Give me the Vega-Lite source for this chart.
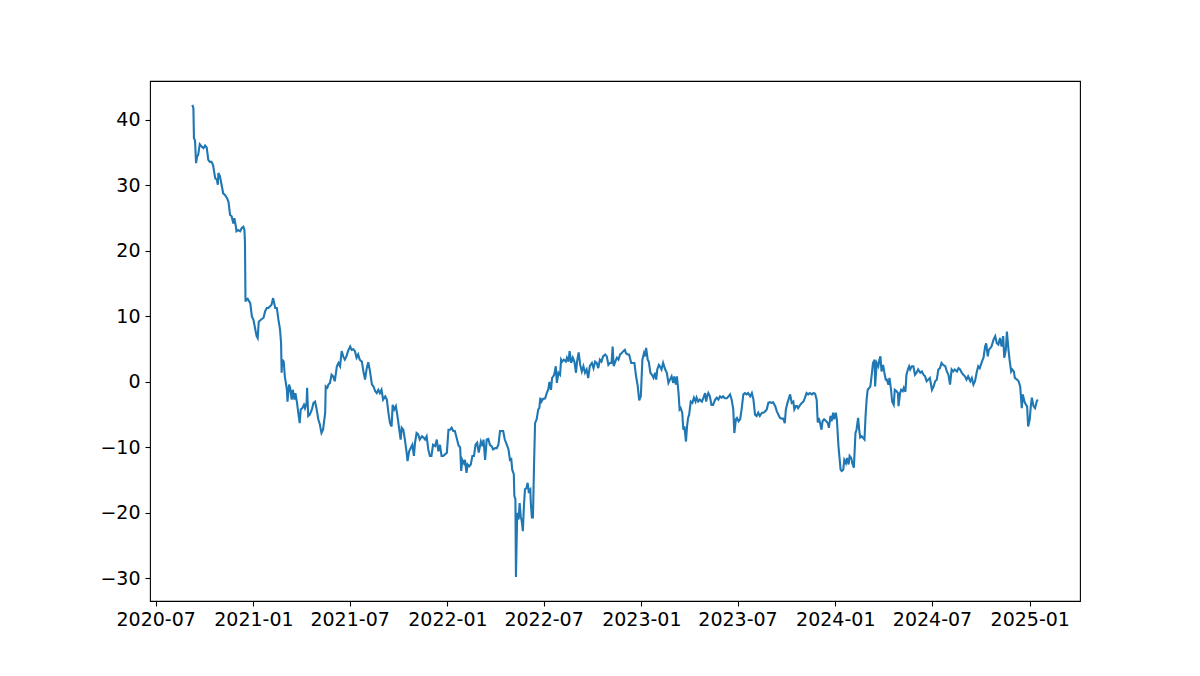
{
  "$schema": "https://vega.github.io/schema/vega-lite/v6.json",
  "width": 930,
  "height": 520,
  "autosize": {"type": "none"},
  "padding": {"left": 150, "top": 81, "right": 120, "bottom": 75},
  "background": "white",
  "config": {"view": {"stroke": "black", "strokeWidth": 1.1}, "font": "DejaVu Sans"},
  "data": {"values": [
    {"date": "2020-09-08", "value": 42.3},
    {"date": "2020-09-10", "value": 41.8},
    {"date": "2020-09-11", "value": 37.2},
    {"date": "2020-09-13", "value": 36.9},
    {"date": "2020-09-15", "value": 33.4},
    {"date": "2020-09-17", "value": 34.4},
    {"date": "2020-09-19", "value": 34.7},
    {"date": "2020-09-22", "value": 36.3},
    {"date": "2020-09-26", "value": 35.9},
    {"date": "2020-09-29", "value": 35.7},
    {"date": "2020-10-02", "value": 36.1},
    {"date": "2020-10-05", "value": 35.8},
    {"date": "2020-10-08", "value": 33.9},
    {"date": "2020-10-11", "value": 33.6},
    {"date": "2020-10-14", "value": 33.6},
    {"date": "2020-10-17", "value": 33.1},
    {"date": "2020-10-21", "value": 31.1},
    {"date": "2020-10-24", "value": 30.9},
    {"date": "2020-10-26", "value": 30.1},
    {"date": "2020-10-27", "value": 31.9},
    {"date": "2020-10-30", "value": 31.4},
    {"date": "2020-11-02", "value": 30.1},
    {"date": "2020-11-05", "value": 28.8},
    {"date": "2020-11-08", "value": 28.6},
    {"date": "2020-11-12", "value": 28.1},
    {"date": "2020-11-15", "value": 27.5},
    {"date": "2020-11-18", "value": 25.5},
    {"date": "2020-11-21", "value": 25.3},
    {"date": "2020-11-24", "value": 24.2},
    {"date": "2020-11-26", "value": 25.0},
    {"date": "2020-11-29", "value": 23.7},
    {"date": "2020-11-30", "value": 23.0},
    {"date": "2020-12-03", "value": 23.2},
    {"date": "2020-12-07", "value": 23.0},
    {"date": "2020-12-10", "value": 23.5},
    {"date": "2020-12-13", "value": 23.7},
    {"date": "2020-12-15", "value": 23.2},
    {"date": "2020-12-16", "value": 21.4},
    {"date": "2020-12-17", "value": 12.3},
    {"date": "2020-12-19", "value": 12.6},
    {"date": "2020-12-21", "value": 12.7},
    {"date": "2020-12-24", "value": 12.3},
    {"date": "2020-12-26", "value": 12.0},
    {"date": "2020-12-29", "value": 10.0},
    {"date": "2021-01-01", "value": 9.5},
    {"date": "2021-01-04", "value": 8.2},
    {"date": "2021-01-07", "value": 7.0},
    {"date": "2021-01-09", "value": 6.7},
    {"date": "2021-01-11", "value": 9.2},
    {"date": "2021-01-15", "value": 9.5},
    {"date": "2021-01-20", "value": 9.8},
    {"date": "2021-01-23", "value": 10.8},
    {"date": "2021-01-26", "value": 11.3},
    {"date": "2021-01-29", "value": 11.3},
    {"date": "2021-02-01", "value": 11.5},
    {"date": "2021-02-04", "value": 11.8},
    {"date": "2021-02-07", "value": 12.8},
    {"date": "2021-02-11", "value": 11.3},
    {"date": "2021-02-14", "value": 11.3},
    {"date": "2021-02-17", "value": 9.5},
    {"date": "2021-02-20", "value": 8.0},
    {"date": "2021-02-22", "value": 5.9},
    {"date": "2021-02-23", "value": 1.4},
    {"date": "2021-02-24", "value": 3.4},
    {"date": "2021-02-27", "value": 3.1},
    {"date": "2021-03-01", "value": 0.85},
    {"date": "2021-03-05", "value": -1.2},
    {"date": "2021-03-06", "value": -3.0},
    {"date": "2021-03-09", "value": -0.4},
    {"date": "2021-03-11", "value": -0.9},
    {"date": "2021-03-14", "value": -2.7},
    {"date": "2021-03-16", "value": -1.2},
    {"date": "2021-03-19", "value": -2.7},
    {"date": "2021-03-21", "value": -1.7},
    {"date": "2021-03-24", "value": -3.2},
    {"date": "2021-03-26", "value": -4.5},
    {"date": "2021-03-29", "value": -6.3},
    {"date": "2021-03-31", "value": -4.2},
    {"date": "2021-04-03", "value": -4.0},
    {"date": "2021-04-06", "value": -3.5},
    {"date": "2021-04-08", "value": -4.0},
    {"date": "2021-04-11", "value": -3.2},
    {"date": "2021-04-12", "value": -0.9},
    {"date": "2021-04-14", "value": -5.2},
    {"date": "2021-04-17", "value": -5.0},
    {"date": "2021-04-21", "value": -4.2},
    {"date": "2021-04-24", "value": -3.2},
    {"date": "2021-04-27", "value": -3.0},
    {"date": "2021-04-30", "value": -4.2},
    {"date": "2021-05-03", "value": -5.7},
    {"date": "2021-05-06", "value": -6.5},
    {"date": "2021-05-09", "value": -7.8},
    {"date": "2021-05-12", "value": -7.3},
    {"date": "2021-05-16", "value": -4.7},
    {"date": "2021-05-17", "value": -0.7},
    {"date": "2021-05-20", "value": -0.9},
    {"date": "2021-05-22", "value": -0.4},
    {"date": "2021-05-25", "value": -0.15},
    {"date": "2021-05-28", "value": 1.1},
    {"date": "2021-05-31", "value": 0.85},
    {"date": "2021-06-03", "value": 0.1},
    {"date": "2021-06-07", "value": 2.4},
    {"date": "2021-06-10", "value": 2.9},
    {"date": "2021-06-13", "value": 2.4},
    {"date": "2021-06-16", "value": 4.7},
    {"date": "2021-06-19", "value": 3.9},
    {"date": "2021-06-22", "value": 3.4},
    {"date": "2021-06-25", "value": 3.9},
    {"date": "2021-06-28", "value": 4.7},
    {"date": "2021-07-02", "value": 5.4},
    {"date": "2021-07-05", "value": 4.9},
    {"date": "2021-07-08", "value": 5.0},
    {"date": "2021-07-11", "value": 4.7},
    {"date": "2021-07-14", "value": 3.7},
    {"date": "2021-07-17", "value": 4.2},
    {"date": "2021-07-20", "value": 3.4},
    {"date": "2021-07-24", "value": 3.1},
    {"date": "2021-07-27", "value": 1.6},
    {"date": "2021-07-30", "value": 0.35},
    {"date": "2021-08-02", "value": 2.0},
    {"date": "2021-08-05", "value": 3.0},
    {"date": "2021-08-08", "value": 1.8},
    {"date": "2021-08-12", "value": -0.4},
    {"date": "2021-08-15", "value": -0.7},
    {"date": "2021-08-18", "value": -1.4},
    {"date": "2021-08-21", "value": -1.7},
    {"date": "2021-08-24", "value": -1.2},
    {"date": "2021-08-27", "value": -1.7},
    {"date": "2021-08-30", "value": -1.2},
    {"date": "2021-09-02", "value": -2.7},
    {"date": "2021-09-06", "value": -2.2},
    {"date": "2021-09-09", "value": -2.7},
    {"date": "2021-09-12", "value": -4.7},
    {"date": "2021-09-15", "value": -6.3},
    {"date": "2021-09-18", "value": -6.8},
    {"date": "2021-09-20", "value": -3.5},
    {"date": "2021-09-23", "value": -4.2},
    {"date": "2021-09-26", "value": -3.7},
    {"date": "2021-09-29", "value": -5.2},
    {"date": "2021-10-02", "value": -7.0},
    {"date": "2021-10-05", "value": -8.8},
    {"date": "2021-10-07", "value": -7.0},
    {"date": "2021-10-10", "value": -7.3},
    {"date": "2021-10-13", "value": -8.8},
    {"date": "2021-10-16", "value": -10.6},
    {"date": "2021-10-18", "value": -12.1},
    {"date": "2021-10-21", "value": -10.6},
    {"date": "2021-10-24", "value": -10.1},
    {"date": "2021-10-27", "value": -9.6},
    {"date": "2021-10-30", "value": -11.3},
    {"date": "2021-11-01", "value": -9.3},
    {"date": "2021-11-04", "value": -7.8},
    {"date": "2021-11-07", "value": -8.0},
    {"date": "2021-11-10", "value": -8.8},
    {"date": "2021-11-14", "value": -8.3},
    {"date": "2021-11-17", "value": -8.5},
    {"date": "2021-11-20", "value": -8.8},
    {"date": "2021-11-23", "value": -8.3},
    {"date": "2021-11-26", "value": -10.3},
    {"date": "2021-11-29", "value": -11.3},
    {"date": "2021-12-02", "value": -11.3},
    {"date": "2021-12-05", "value": -9.6},
    {"date": "2021-12-09", "value": -9.8},
    {"date": "2021-12-12", "value": -8.8},
    {"date": "2021-12-15", "value": -10.6},
    {"date": "2021-12-18", "value": -9.6},
    {"date": "2021-12-21", "value": -11.3},
    {"date": "2021-12-24", "value": -11.3},
    {"date": "2021-12-27", "value": -11.1},
    {"date": "2021-12-31", "value": -10.8},
    {"date": "2022-01-03", "value": -7.3},
    {"date": "2022-01-06", "value": -7.3},
    {"date": "2022-01-09", "value": -7.0},
    {"date": "2022-01-12", "value": -7.5},
    {"date": "2022-01-15", "value": -7.5},
    {"date": "2022-01-18", "value": -8.4},
    {"date": "2022-01-22", "value": -9.7},
    {"date": "2022-01-25", "value": -10.0},
    {"date": "2022-01-27", "value": -13.6},
    {"date": "2022-01-29", "value": -11.9},
    {"date": "2022-02-01", "value": -12.4},
    {"date": "2022-02-03", "value": -11.9},
    {"date": "2022-02-06", "value": -13.9},
    {"date": "2022-02-08", "value": -12.6},
    {"date": "2022-02-11", "value": -12.9},
    {"date": "2022-02-14", "value": -12.6},
    {"date": "2022-02-17", "value": -11.3},
    {"date": "2022-02-20", "value": -11.3},
    {"date": "2022-02-23", "value": -9.6},
    {"date": "2022-02-26", "value": -9.3},
    {"date": "2022-03-01", "value": -10.8},
    {"date": "2022-03-05", "value": -9.1},
    {"date": "2022-03-08", "value": -9.8},
    {"date": "2022-03-10", "value": -8.8},
    {"date": "2022-03-13", "value": -11.9},
    {"date": "2022-03-16", "value": -8.8},
    {"date": "2022-03-19", "value": -8.7},
    {"date": "2022-03-22", "value": -9.6},
    {"date": "2022-03-25", "value": -9.8},
    {"date": "2022-03-28", "value": -10.3},
    {"date": "2022-04-01", "value": -10.1},
    {"date": "2022-04-04", "value": -10.1},
    {"date": "2022-04-07", "value": -9.6},
    {"date": "2022-04-10", "value": -7.5},
    {"date": "2022-04-13", "value": -7.5},
    {"date": "2022-04-16", "value": -7.5},
    {"date": "2022-04-19", "value": -8.8},
    {"date": "2022-04-23", "value": -9.6},
    {"date": "2022-04-26", "value": -10.3},
    {"date": "2022-04-29", "value": -12.1},
    {"date": "2022-05-01", "value": -11.6},
    {"date": "2022-05-03", "value": -13.4},
    {"date": "2022-05-06", "value": -14.1},
    {"date": "2022-05-07", "value": -17.4},
    {"date": "2022-05-09", "value": -17.9},
    {"date": "2022-05-10", "value": -29.8},
    {"date": "2022-05-12", "value": -21.5},
    {"date": "2022-05-13", "value": -20.0},
    {"date": "2022-05-15", "value": -21.0},
    {"date": "2022-05-17", "value": -18.5},
    {"date": "2022-05-19", "value": -20.5},
    {"date": "2022-05-21", "value": -21.3},
    {"date": "2022-05-23", "value": -22.8},
    {"date": "2022-05-25", "value": -19.0},
    {"date": "2022-05-27", "value": -16.4},
    {"date": "2022-05-30", "value": -16.2},
    {"date": "2022-06-01", "value": -15.4},
    {"date": "2022-06-03", "value": -16.7},
    {"date": "2022-06-06", "value": -16.4},
    {"date": "2022-06-07", "value": -18.5},
    {"date": "2022-06-09", "value": -20.7},
    {"date": "2022-06-11", "value": -20.7},
    {"date": "2022-06-13", "value": -12.9},
    {"date": "2022-06-15", "value": -6.3},
    {"date": "2022-06-18", "value": -5.7},
    {"date": "2022-06-21", "value": -4.2},
    {"date": "2022-06-23", "value": -4.0},
    {"date": "2022-06-25", "value": -2.4},
    {"date": "2022-06-27", "value": -3.0},
    {"date": "2022-06-30", "value": -2.6},
    {"date": "2022-07-04", "value": -2.5},
    {"date": "2022-07-07", "value": -1.7},
    {"date": "2022-07-10", "value": -1.1},
    {"date": "2022-07-12", "value": 0.0},
    {"date": "2022-07-15", "value": -1.2},
    {"date": "2022-07-17", "value": 0.6},
    {"date": "2022-07-21", "value": 1.1},
    {"date": "2022-07-24", "value": 2.4},
    {"date": "2022-07-26", "value": -0.15},
    {"date": "2022-07-29", "value": 1.4},
    {"date": "2022-08-01", "value": 1.1},
    {"date": "2022-08-03", "value": 3.4},
    {"date": "2022-08-05", "value": 3.1},
    {"date": "2022-08-08", "value": 3.4},
    {"date": "2022-08-12", "value": 3.1},
    {"date": "2022-08-14", "value": 3.7},
    {"date": "2022-08-17", "value": 3.1},
    {"date": "2022-08-19", "value": 4.7},
    {"date": "2022-08-22", "value": 2.9},
    {"date": "2022-08-25", "value": 3.7},
    {"date": "2022-08-28", "value": 3.1},
    {"date": "2022-08-31", "value": 1.4},
    {"date": "2022-09-02", "value": 3.1},
    {"date": "2022-09-05", "value": 4.5},
    {"date": "2022-09-08", "value": 2.6},
    {"date": "2022-09-11", "value": 1.6},
    {"date": "2022-09-14", "value": 2.4},
    {"date": "2022-09-17", "value": 1.4},
    {"date": "2022-09-20", "value": 1.9},
    {"date": "2022-09-23", "value": 0.6},
    {"date": "2022-09-26", "value": 2.4},
    {"date": "2022-09-30", "value": 2.9},
    {"date": "2022-10-03", "value": 2.1},
    {"date": "2022-10-06", "value": 3.1},
    {"date": "2022-10-09", "value": 2.9},
    {"date": "2022-10-12", "value": 2.1},
    {"date": "2022-10-15", "value": 3.4},
    {"date": "2022-10-18", "value": 3.1},
    {"date": "2022-10-21", "value": 3.9},
    {"date": "2022-10-25", "value": 4.2},
    {"date": "2022-10-28", "value": 3.9},
    {"date": "2022-10-31", "value": 2.6},
    {"date": "2022-11-03", "value": 2.9},
    {"date": "2022-11-06", "value": 2.9},
    {"date": "2022-11-08", "value": 5.4},
    {"date": "2022-11-10", "value": 2.4},
    {"date": "2022-11-13", "value": 3.1},
    {"date": "2022-11-16", "value": 3.7},
    {"date": "2022-11-19", "value": 3.4},
    {"date": "2022-11-22", "value": 4.2},
    {"date": "2022-11-25", "value": 4.4},
    {"date": "2022-11-28", "value": 4.7},
    {"date": "2022-12-01", "value": 4.9},
    {"date": "2022-12-03", "value": 4.4},
    {"date": "2022-12-06", "value": 4.2},
    {"date": "2022-12-09", "value": 4.2},
    {"date": "2022-12-13", "value": 2.9},
    {"date": "2022-12-16", "value": 2.9},
    {"date": "2022-12-19", "value": 2.9},
    {"date": "2022-12-22", "value": 0.9},
    {"date": "2022-12-25", "value": -0.5},
    {"date": "2022-12-28", "value": -2.8},
    {"date": "2022-12-31", "value": -2.2},
    {"date": "2023-01-03", "value": 3.4},
    {"date": "2023-01-06", "value": 4.4},
    {"date": "2023-01-08", "value": 3.9},
    {"date": "2023-01-10", "value": 5.2},
    {"date": "2023-01-13", "value": 3.4},
    {"date": "2023-01-15", "value": 3.1},
    {"date": "2023-01-18", "value": 1.4},
    {"date": "2023-01-21", "value": 1.1},
    {"date": "2023-01-24", "value": 0.6},
    {"date": "2023-01-27", "value": 1.4},
    {"date": "2023-01-29", "value": 0.35},
    {"date": "2023-01-31", "value": 1.9},
    {"date": "2023-02-03", "value": 2.6},
    {"date": "2023-02-05", "value": 2.4},
    {"date": "2023-02-08", "value": 1.9},
    {"date": "2023-02-11", "value": 2.9},
    {"date": "2023-02-15", "value": 1.9},
    {"date": "2023-02-18", "value": 1.4},
    {"date": "2023-02-21", "value": -0.15},
    {"date": "2023-02-24", "value": 0.35},
    {"date": "2023-02-27", "value": 0.85},
    {"date": "2023-03-02", "value": -0.15},
    {"date": "2023-03-04", "value": 0.85},
    {"date": "2023-03-07", "value": -0.4},
    {"date": "2023-03-09", "value": 0.85},
    {"date": "2023-03-12", "value": -1.7},
    {"date": "2023-03-14", "value": -4.2},
    {"date": "2023-03-16", "value": -4.0},
    {"date": "2023-03-19", "value": -4.7},
    {"date": "2023-03-21", "value": -7.3},
    {"date": "2023-03-23", "value": -6.8},
    {"date": "2023-03-26", "value": -9.1},
    {"date": "2023-03-28", "value": -6.8},
    {"date": "2023-03-30", "value": -5.5},
    {"date": "2023-04-01", "value": -5.0},
    {"date": "2023-04-04", "value": -3.0},
    {"date": "2023-04-07", "value": -3.2},
    {"date": "2023-04-10", "value": -2.4},
    {"date": "2023-04-13", "value": -3.0},
    {"date": "2023-04-15", "value": -2.4},
    {"date": "2023-04-18", "value": -3.0},
    {"date": "2023-04-21", "value": -2.7},
    {"date": "2023-04-25", "value": -3.0},
    {"date": "2023-04-28", "value": -2.4},
    {"date": "2023-05-01", "value": -1.7},
    {"date": "2023-05-03", "value": -3.0},
    {"date": "2023-05-05", "value": -2.2},
    {"date": "2023-05-07", "value": -1.7},
    {"date": "2023-05-10", "value": -2.2},
    {"date": "2023-05-13", "value": -3.5},
    {"date": "2023-05-16", "value": -3.5},
    {"date": "2023-05-20", "value": -2.7},
    {"date": "2023-05-23", "value": -2.4},
    {"date": "2023-05-26", "value": -2.7},
    {"date": "2023-05-29", "value": -2.2},
    {"date": "2023-06-01", "value": -2.4},
    {"date": "2023-06-04", "value": -2.2},
    {"date": "2023-06-07", "value": -2.5},
    {"date": "2023-06-11", "value": -2.5},
    {"date": "2023-06-14", "value": -2.2},
    {"date": "2023-06-17", "value": -1.9},
    {"date": "2023-06-20", "value": -2.7},
    {"date": "2023-06-23", "value": -4.2},
    {"date": "2023-06-25", "value": -7.8},
    {"date": "2023-06-28", "value": -5.7},
    {"date": "2023-06-30", "value": -5.5},
    {"date": "2023-07-03", "value": -6.0},
    {"date": "2023-07-06", "value": -5.7},
    {"date": "2023-07-09", "value": -4.0},
    {"date": "2023-07-12", "value": -1.9},
    {"date": "2023-07-15", "value": -1.7},
    {"date": "2023-07-18", "value": -1.9},
    {"date": "2023-07-21", "value": -1.7},
    {"date": "2023-07-25", "value": -2.2},
    {"date": "2023-07-28", "value": -1.7},
    {"date": "2023-07-31", "value": -2.7},
    {"date": "2023-08-03", "value": -5.0},
    {"date": "2023-08-06", "value": -5.2},
    {"date": "2023-08-09", "value": -4.7},
    {"date": "2023-08-12", "value": -5.2},
    {"date": "2023-08-16", "value": -4.7},
    {"date": "2023-08-19", "value": -4.7},
    {"date": "2023-08-22", "value": -4.5},
    {"date": "2023-08-25", "value": -4.2},
    {"date": "2023-08-28", "value": -3.2},
    {"date": "2023-08-31", "value": -3.1},
    {"date": "2023-09-03", "value": -3.2},
    {"date": "2023-09-06", "value": -3.1},
    {"date": "2023-09-10", "value": -3.7},
    {"date": "2023-09-13", "value": -4.5},
    {"date": "2023-09-16", "value": -5.0},
    {"date": "2023-09-19", "value": -5.5},
    {"date": "2023-09-22", "value": -5.6},
    {"date": "2023-09-25", "value": -5.6},
    {"date": "2023-09-28", "value": -6.3},
    {"date": "2023-09-30", "value": -4.2},
    {"date": "2023-10-03", "value": -3.2},
    {"date": "2023-10-05", "value": -2.7},
    {"date": "2023-10-08", "value": -1.9},
    {"date": "2023-10-11", "value": -3.2},
    {"date": "2023-10-14", "value": -3.0},
    {"date": "2023-10-16", "value": -4.2},
    {"date": "2023-10-19", "value": -3.7},
    {"date": "2023-10-21", "value": -3.7},
    {"date": "2023-10-23", "value": -4.0},
    {"date": "2023-10-27", "value": -3.5},
    {"date": "2023-10-30", "value": -3.2},
    {"date": "2023-11-02", "value": -3.0},
    {"date": "2023-11-05", "value": -2.4},
    {"date": "2023-11-08", "value": -1.7},
    {"date": "2023-11-11", "value": -1.9},
    {"date": "2023-11-14", "value": -1.7},
    {"date": "2023-11-18", "value": -1.9},
    {"date": "2023-11-21", "value": -1.7},
    {"date": "2023-11-24", "value": -1.8},
    {"date": "2023-11-27", "value": -2.7},
    {"date": "2023-11-29", "value": -6.2},
    {"date": "2023-12-01", "value": -5.5},
    {"date": "2023-12-04", "value": -6.5},
    {"date": "2023-12-06", "value": -7.3},
    {"date": "2023-12-08", "value": -6.0},
    {"date": "2023-12-11", "value": -5.7},
    {"date": "2023-12-15", "value": -6.0},
    {"date": "2023-12-18", "value": -6.3},
    {"date": "2023-12-20", "value": -7.0},
    {"date": "2023-12-23", "value": -5.2},
    {"date": "2023-12-25", "value": -6.0},
    {"date": "2023-12-28", "value": -4.7},
    {"date": "2023-12-30", "value": -5.7},
    {"date": "2024-01-02", "value": -4.7},
    {"date": "2024-01-04", "value": -5.7},
    {"date": "2024-01-07", "value": -9.8},
    {"date": "2024-01-09", "value": -11.6},
    {"date": "2024-01-11", "value": -13.4},
    {"date": "2024-01-13", "value": -13.6},
    {"date": "2024-01-16", "value": -13.4},
    {"date": "2024-01-18", "value": -11.9},
    {"date": "2024-01-21", "value": -12.4},
    {"date": "2024-01-23", "value": -11.6},
    {"date": "2024-01-26", "value": -12.6},
    {"date": "2024-01-28", "value": -11.3},
    {"date": "2024-01-31", "value": -11.6},
    {"date": "2024-02-02", "value": -12.4},
    {"date": "2024-02-05", "value": -13.1},
    {"date": "2024-02-08", "value": -7.8},
    {"date": "2024-02-10", "value": -7.3},
    {"date": "2024-02-13", "value": -5.5},
    {"date": "2024-02-15", "value": -7.3},
    {"date": "2024-02-17", "value": -8.5},
    {"date": "2024-02-20", "value": -8.3},
    {"date": "2024-02-22", "value": -8.5},
    {"date": "2024-02-25", "value": -8.8},
    {"date": "2024-02-27", "value": -5.2},
    {"date": "2024-02-29", "value": -2.7},
    {"date": "2024-03-02", "value": -1.2},
    {"date": "2024-03-05", "value": -0.9},
    {"date": "2024-03-07", "value": -0.7},
    {"date": "2024-03-10", "value": 1.4},
    {"date": "2024-03-12", "value": 2.9},
    {"date": "2024-03-15", "value": 3.4},
    {"date": "2024-03-16", "value": -0.7},
    {"date": "2024-03-19", "value": 2.9},
    {"date": "2024-03-22", "value": 2.4},
    {"date": "2024-03-24", "value": 3.4},
    {"date": "2024-03-26", "value": 3.9},
    {"date": "2024-03-28", "value": 1.6},
    {"date": "2024-03-31", "value": 2.6},
    {"date": "2024-04-02", "value": 1.6},
    {"date": "2024-04-05", "value": 0.35},
    {"date": "2024-04-07", "value": 0.35},
    {"date": "2024-04-10", "value": -0.4},
    {"date": "2024-04-12", "value": 0.6},
    {"date": "2024-04-15", "value": -1.2},
    {"date": "2024-04-17", "value": -3.0},
    {"date": "2024-04-20", "value": -3.5},
    {"date": "2024-04-22", "value": -1.2},
    {"date": "2024-04-25", "value": -1.4},
    {"date": "2024-04-28", "value": -1.7},
    {"date": "2024-04-29", "value": -3.7},
    {"date": "2024-05-02", "value": -1.7},
    {"date": "2024-05-04", "value": -1.2},
    {"date": "2024-05-07", "value": -1.4},
    {"date": "2024-05-09", "value": -0.9},
    {"date": "2024-05-12", "value": -1.5},
    {"date": "2024-05-14", "value": 1.1},
    {"date": "2024-05-17", "value": 2.0},
    {"date": "2024-05-19", "value": 2.4},
    {"date": "2024-05-21", "value": 1.9},
    {"date": "2024-05-24", "value": 2.4},
    {"date": "2024-05-27", "value": 2.4},
    {"date": "2024-05-30", "value": 1.1},
    {"date": "2024-06-02", "value": 1.4},
    {"date": "2024-06-05", "value": 1.9},
    {"date": "2024-06-09", "value": 1.4},
    {"date": "2024-06-12", "value": 1.6},
    {"date": "2024-06-15", "value": 1.1},
    {"date": "2024-06-18", "value": 0.85},
    {"date": "2024-06-21", "value": 0.1},
    {"date": "2024-06-24", "value": 0.35},
    {"date": "2024-06-27", "value": 0.6},
    {"date": "2024-07-01", "value": -1.2},
    {"date": "2024-07-04", "value": -0.7},
    {"date": "2024-07-07", "value": 0.1},
    {"date": "2024-07-10", "value": 0.35},
    {"date": "2024-07-13", "value": 1.9},
    {"date": "2024-07-16", "value": 2.1},
    {"date": "2024-07-19", "value": 2.9},
    {"date": "2024-07-22", "value": 2.6},
    {"date": "2024-07-26", "value": 2.4},
    {"date": "2024-07-29", "value": 1.6},
    {"date": "2024-08-01", "value": 1.1},
    {"date": "2024-08-04", "value": -0.4},
    {"date": "2024-08-07", "value": 1.9},
    {"date": "2024-08-10", "value": 1.6},
    {"date": "2024-08-13", "value": 1.9},
    {"date": "2024-08-17", "value": 1.6},
    {"date": "2024-08-20", "value": 2.1},
    {"date": "2024-08-23", "value": 1.9},
    {"date": "2024-08-26", "value": 1.4},
    {"date": "2024-08-29", "value": 1.1},
    {"date": "2024-09-01", "value": 0.85},
    {"date": "2024-09-04", "value": 0.35},
    {"date": "2024-09-07", "value": 0.85},
    {"date": "2024-09-11", "value": 0.1},
    {"date": "2024-09-14", "value": 0.6},
    {"date": "2024-09-17", "value": -0.4},
    {"date": "2024-09-20", "value": 0.1},
    {"date": "2024-09-23", "value": 1.4},
    {"date": "2024-09-26", "value": 2.4},
    {"date": "2024-09-29", "value": 2.1},
    {"date": "2024-10-03", "value": 3.1},
    {"date": "2024-10-06", "value": 3.7},
    {"date": "2024-10-09", "value": 5.4},
    {"date": "2024-10-11", "value": 5.9},
    {"date": "2024-10-14", "value": 3.9},
    {"date": "2024-10-16", "value": 4.9},
    {"date": "2024-10-19", "value": 5.2},
    {"date": "2024-10-21", "value": 5.4},
    {"date": "2024-10-25", "value": 6.5},
    {"date": "2024-10-28", "value": 7.0},
    {"date": "2024-10-31", "value": 5.9},
    {"date": "2024-11-03", "value": 5.7},
    {"date": "2024-11-06", "value": 6.7},
    {"date": "2024-11-09", "value": 5.4},
    {"date": "2024-11-12", "value": 7.0},
    {"date": "2024-11-14", "value": 3.7},
    {"date": "2024-11-17", "value": 4.9},
    {"date": "2024-11-19", "value": 7.7},
    {"date": "2024-11-22", "value": 4.9},
    {"date": "2024-11-24", "value": 3.4},
    {"date": "2024-11-27", "value": 1.6},
    {"date": "2024-11-29", "value": 1.9},
    {"date": "2024-12-02", "value": 1.6},
    {"date": "2024-12-04", "value": 0.6},
    {"date": "2024-12-08", "value": 0.35},
    {"date": "2024-12-11", "value": 0.1},
    {"date": "2024-12-14", "value": -0.7},
    {"date": "2024-12-17", "value": -4.0},
    {"date": "2024-12-19", "value": -1.9},
    {"date": "2024-12-22", "value": -3.0},
    {"date": "2024-12-25", "value": -3.5},
    {"date": "2024-12-27", "value": -3.7},
    {"date": "2024-12-29", "value": -6.8},
    {"date": "2025-01-01", "value": -5.7},
    {"date": "2025-01-03", "value": -3.7},
    {"date": "2025-01-05", "value": -2.4},
    {"date": "2025-01-08", "value": -3.7},
    {"date": "2025-01-11", "value": -4.0},
    {"date": "2025-01-14", "value": -3.0},
    {"date": "2025-01-16", "value": -2.7}
  ]},
  "mark": {"type": "line", "color": "#1f77b4", "strokeWidth": 2.1, "clip": true},
  "encoding": {
    "x": {
      "field": "date",
      "type": "temporal",
      "scale": {"type": "utc", "domain": [
        {"year": 2020, "month": 6, "date": 20, "hours": 7, "utc": true},
        {"year": 2025, "month": 4, "date": 5, "hours": 14, "utc": true}
      ]},
      "axis": {
        "title": null,
        "values": [
          {"year": 2020, "month": 7, "date": 1, "utc": true},
          {"year": 2021, "month": 1, "date": 1, "utc": true},
          {"year": 2021, "month": 7, "date": 1, "utc": true},
          {"year": 2022, "month": 1, "date": 1, "utc": true},
          {"year": 2022, "month": 7, "date": 1, "utc": true},
          {"year": 2023, "month": 1, "date": 1, "utc": true},
          {"year": 2023, "month": 7, "date": 1, "utc": true},
          {"year": 2024, "month": 1, "date": 1, "utc": true},
          {"year": 2024, "month": 7, "date": 1, "utc": true},
          {"year": 2025, "month": 1, "date": 1, "utc": true}
        ],
        "format": "%Y-%m",
        "grid": false,
        "domain": false,
        "tickColor": "black",
        "tickSize": 5,
        "tickWidth": 1.1,
        "labelFont": "DejaVu Sans",
        "labelFontSize": 19,
        "labelColor": "black",
        "labelPadding": 4,
        "labelFlush": false,
        "labelOverlap": false
      }
    },
    "y": {
      "field": "value",
      "type": "quantitative",
      "scale": {"domain": [-33.45, 45.95], "nice": false, "zero": false},
      "axis": {
        "title": null,
        "values": [-30, -20, -10, 0, 10, 20, 30, 40],
        "labelExpr": "replace(datum.label, '-', '−')",
        "grid": false,
        "domain": false,
        "tickColor": "black",
        "tickSize": 5,
        "tickWidth": 1.1,
        "labelFont": "DejaVu Sans",
        "labelFontSize": 19,
        "labelColor": "black",
        "labelPadding": 5,
        "labelFlush": false,
        "labelOverlap": false
      }
    }
  }
}
